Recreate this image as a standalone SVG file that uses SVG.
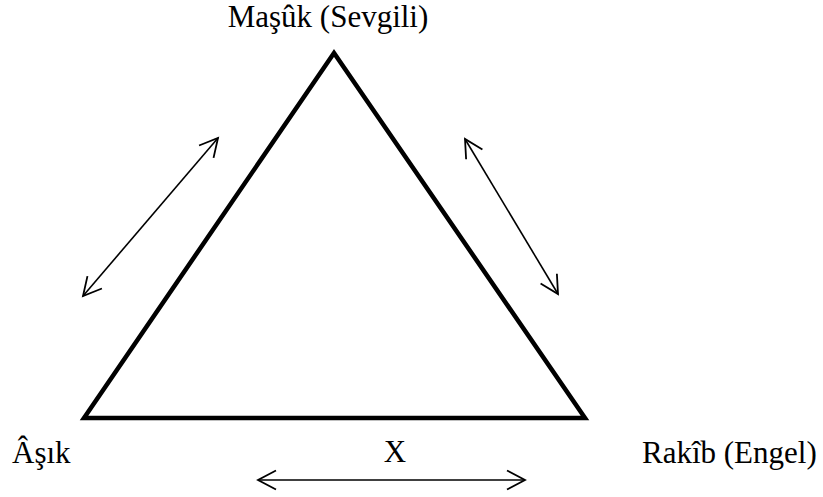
<svg xmlns="http://www.w3.org/2000/svg" width="823" height="497" viewBox="0 0 823 497">
<style>
text{font-family:"Liberation Serif","Times New Roman",serif;font-size:31px;fill:#000}
.arr{stroke:#000;stroke-width:1.6;fill:none;marker-start:url(#ah);marker-end:url(#ah)}
</style>
<defs>
<marker id="ah" viewBox="0 0 22 22" refX="19" refY="11" markerWidth="22" markerHeight="22" markerUnits="userSpaceOnUse" orient="auto-start-reverse">
<path d="M1,1.5 L19,11 L1,20.5" fill="none" stroke="#000" stroke-width="1.8"/>
</marker>
</defs>
<rect width="823" height="497" fill="#fff"/>
<g id="triangle">
<path d="M334,53 L84,418 L585,418 Z" fill="none" stroke="#000" stroke-width="4.5" stroke-linejoin="miter"/>
</g>
<g id="masuk"><text x="328" y="27" text-anchor="middle">Maşûk (Sevgili)</text></g>
<g id="asik"><text x="12" y="463">Âşık</text></g>
<g id="rakib"><text x="642" y="463">Rakîb (Engel)</text></g>
<g id="x-label"><text x="395" y="462" text-anchor="middle">X</text></g>
<g id="connectors">
<line class="arr" x1="83" y1="296" x2="218" y2="138"/>
<line class="arr" x1="465" y1="139" x2="558" y2="294"/>
<line class="arr" x1="258" y1="480" x2="525" y2="480"/>
</g>
</svg>
